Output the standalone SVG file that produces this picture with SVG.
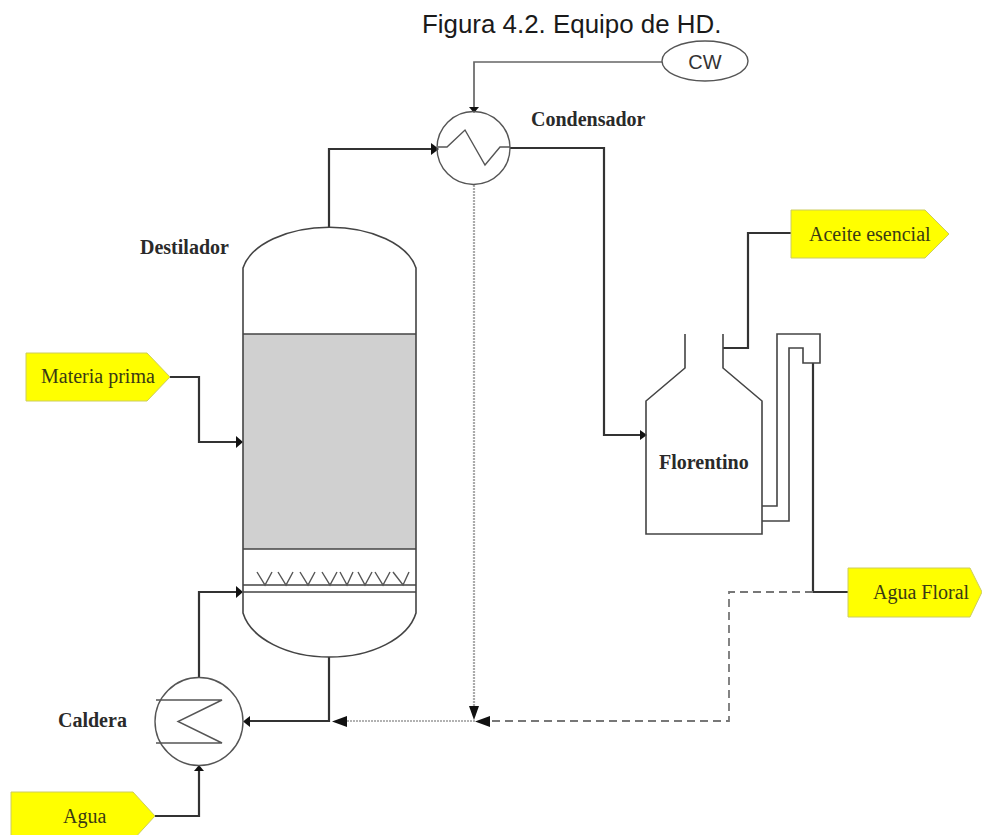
<svg xmlns="http://www.w3.org/2000/svg" width="982" height="835" viewBox="0 0 982 835">
<style>
.l{fill:none;stroke:#444;stroke-width:1.6}
.t{fill:none;stroke:#555;stroke-width:1.4}
.c{fill:none;stroke:#333;stroke-width:2.2}
.tag{fill:#ffff00;stroke:#cccc60;stroke-width:1}
.b{font:bold 20px "Liberation Serif",serif;fill:#2a2a2a}
.n{font:20px "Liberation Serif",serif;fill:#3a3a14}
.s{font:25.9px "Liberation Sans",sans-serif;fill:#1a1a1a}
.a{fill:#111}
</style>
<rect width="982" height="835" fill="#fff"/>
<text class="s" x="422" y="33">Figura 4.2. Equipo de HD.</text>
<g id="connectors">
<path class="c" d="M329 227V149H437"/>
<path class="a" d="M431 143l8 6-8 6z"/>
<path d="M662 62H474V108" fill="none" stroke="#666" stroke-width="1.7"/>
<path class="a" d="M469 107h10l-5 6z"/>
<path class="c" d="M510 148H604V435H644"/>
<path class="a" d="M640 430l7 5-7 5z"/>
<path d="M474 185V708" fill="none" stroke="#aaa" stroke-width="2.2" stroke-dasharray="2 1"/>
<path class="a" d="M469 706h10l-5 14z"/>
<path class="c" d="M723 348H748V233H792"/>
<path class="c" d="M813 363V592H848"/>
<path d="M813 592H729V721H490" fill="none" stroke="#777" stroke-width="1.8" stroke-dasharray="8 5"/>
<path class="a" d="M490 716v11l-15-5.500z"/>
<path d="M475 721H345" fill="none" stroke="#999" stroke-width="1.6" stroke-dasharray="2 1"/>
<path class="a" d="M347 716v11l-15-5.500z"/>
<path class="c" d="M329 657V721H248"/>
<path class="a" d="M250 716v11l-7-5.500z"/>
<path class="c" d="M199 677V592H240"/>
<path class="a" d="M236 586l7 6-7 6z"/>
<path class="c" d="M155 816H199V770"/>
<path class="a" d="M194 771l5-6 5 6z"/>
<path class="c" d="M170 377H199V442H240"/>
<path class="a" d="M236 436l7 6-7 6z"/>
</g>
<g id="destilador">
<rect x="243" y="334" width="173" height="215" fill="#d0d0d0"/>
<path class="l" d="M243 613V268A88 50 0 0 1 416 268V613A88 54 0 0 1 243 613Z"/>
<path class="l" d="M243 334H416M243 549H416M243 585H416M243 592H416"/>
<path class="t" d="M257 572l8 13 7-13M278 572l8 13 7-13M300 572l8 13 7-13M322 572l8 13 7-13M340 572l7 13 6-13M358 572l7 13 7-13M375 572l8 13 7-13M393 572l10 13 6-13"/>
<text class="b" x="140" y="254">Destilador</text>
</g>
<g id="condensador">
<circle class="t" cx="473.500" cy="148" r="36.500" fill="none"/>
<path class="t" d="M438 147H447L465 130L485 165L500 147H510"/>
<text class="b" x="531" y="126">Condensador</text>
</g>
<g id="caldera">
<circle class="t" cx="199" cy="721.500" r="44" fill="none"/>
<path class="t" d="M156 700H222L178 721.500L222 743H156"/>
<text class="b" x="58" y="727">Caldera</text>
</g>
<g id="florentino">
<path class="l" d="M685 334V368L646 401V534H762V401L723 368V334"/>
<path class="l" d="M762 506H777V334H820V363H803V348H789V521H762"/>
<text class="b" x="659" y="469">Florentino</text>
</g>
<g id="cw">
<ellipse cx="705" cy="61" rx="43" ry="20" fill="#fff" stroke="#555" stroke-width="1.4"/>
<text x="705" y="69" text-anchor="middle" font-family="Liberation Sans,sans-serif" font-size="20" fill="#333">CW</text>
</g>
<g id="aceite">
<path class="tag" d="M791 210H925L949 234L925 258H791Z"/>
<text class="n" x="809" y="241">Aceite esencial</text>
</g>
<g id="agua-floral">
<path class="tag" d="M848 568H970L982 592L970 617H848Z"/>
<text class="n" x="873" y="599">Agua Floral</text>
</g>
<g id="materia">
<path class="tag" d="M26 353H147L170 377L147 401H26Z"/>
<text class="n" x="41" y="383">Materia prima</text>
</g>
<g id="agua">
<path class="tag" d="M11 792H133L155 816L133 840H11Z"/>
<text class="n" x="63" y="823">Agua</text>
</g>
</svg>
